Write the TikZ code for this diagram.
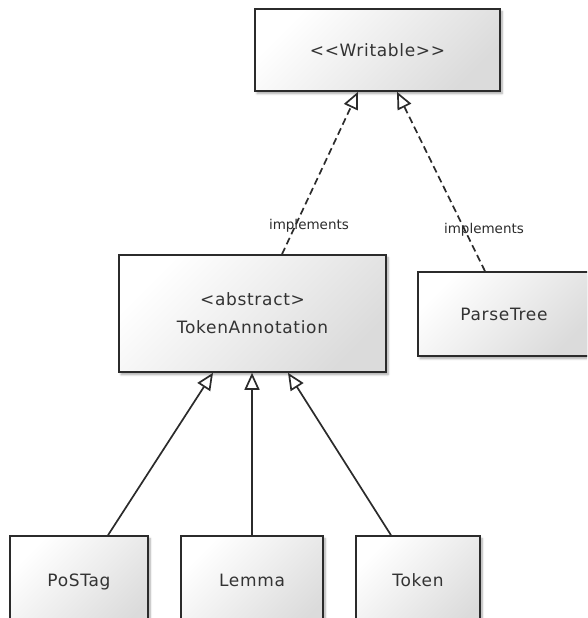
\documentclass[tikz,border=0pt]{standalone}
\usepackage{fontspec}
\setmainfont{DejaVu Sans}
\usetikzlibrary{arrows.meta,shadows.blur}

\definecolor{ink}{HTML}{2B2B2B}
\definecolor{txt}{HTML}{333333}

\newfontfamily\boxfont[LetterSpace=4]{DejaVu Sans}

\tikzset{
  classbox/.style={
    draw=ink, line width=1.6pt, rectangle, inner sep=0pt,
    top color=white, bottom color=black!14, shading angle=45,
    text=txt, font=\boxfont\fontsize{17}{20}\selectfont, align=center,
    blur shadow={shadow xshift=2pt, shadow yshift=-2.5pt, shadow blur steps=6, shadow opacity=35}
  },
  inherit/.style={draw=ink, line width=1.7pt,
    -{Triangle[open, length=17pt, width=15pt, fill=white]}},
  realize/.style={inherit, dash pattern=on 7pt off 4pt},
  edgelabel/.style={text=ink, font=\fontsize{13.5}{16}\selectfont, inner sep=0pt}
}

\begin{document}
\begin{tikzpicture}[x=1pt, y=-1pt]
  \useasboundingbox (0,0) rectangle (587,618);
  \clip (0,0) rectangle (587,618);

  % class boxes
  \node[classbox, minimum width=245pt, minimum height=82pt] (wr) at (377.5,50) {<{}<Writable>{}>};
  \node[classbox, minimum width=267pt, minimum height=117pt] (ta) at (252.5,313.5)
    {<abstract>\\[8pt]TokenAnnotation};
  \node[classbox, minimum width=172pt, minimum height=84pt] (pt) at (504,314) {ParseTree};

  \node[classbox, minimum width=138pt, minimum height=100pt] (pos) at (79,586)
    {\raisebox{11pt}{PoSTag}};
  \node[classbox, minimum width=142pt, minimum height=100pt] (lem) at (252,586)
    {\raisebox{11pt}{Lemma}};
  \node[classbox, minimum width=124pt, minimum height=100pt] (tok) at (418,586)
    {\raisebox{11pt}{Token}};

  % interface realizations
  \draw[realize] ([xshift=29.5pt]ta.north) -- node[edgelabel, pos=0.177, xshift=13.5pt] {implements}
    ([xshift=-19.5pt]wr.south);
  \draw[realize] ([xshift=-19pt]pt.north) -- node[edgelabel, pos=0.233, xshift=19.5pt] {implements}
    ([xshift=19.5pt]wr.south);

  % generalizations
  \draw[inherit] ([xshift=29pt]pos.north) -- ([xshift=-39.5pt]ta.south);
  \draw[inherit] (lem.north) -- (lem.north |- ta.south);
  \draw[inherit] ([xshift=-27pt]tok.north) -- ([xshift=35.5pt]ta.south);
\end{tikzpicture}
\end{document}
